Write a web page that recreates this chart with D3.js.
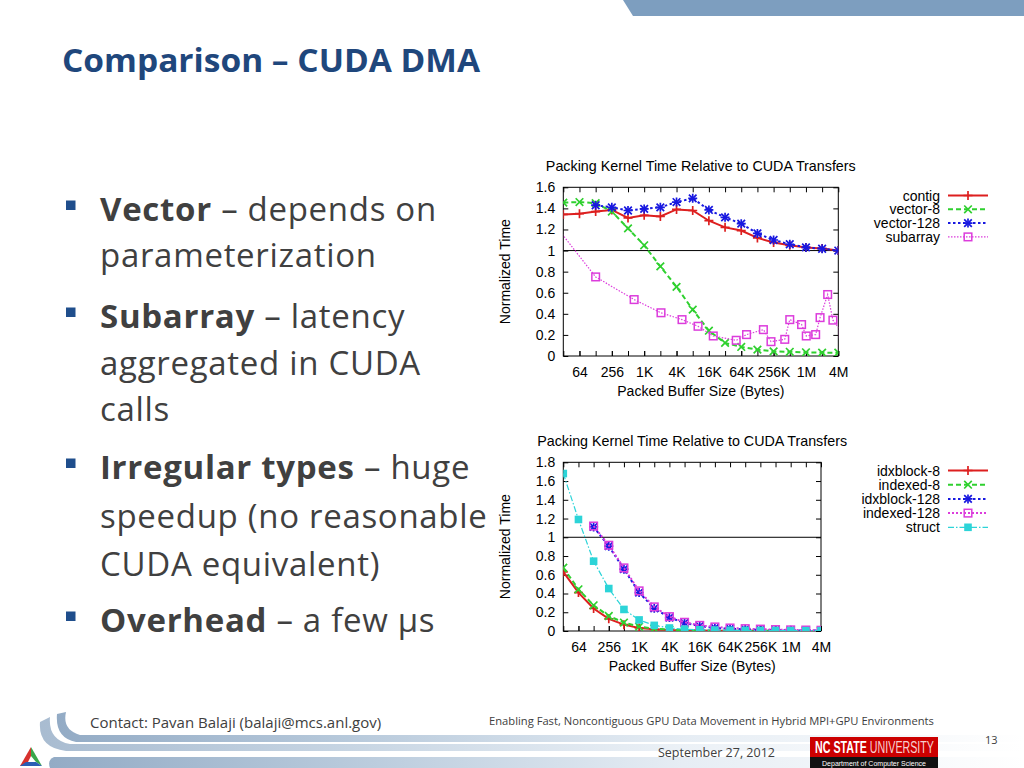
<!DOCTYPE html>
<html>
<head>
<meta charset="utf-8">
<script src="https://cdn.jsdelivr.net/npm/d3@7"></script>
<style>
body { margin: 0; background: #fff; }
svg { display: block; }
</style>
</head>
<body>
<script>
// ---- data ----
var sizes = [32, 64, 128, 256, 512, 1024, 2048, 4096, 8192, 16384, 32768, 65536,
    131072, 262144, 524288, 1048576, 2097152, 4194304]
var xTickValues = [64, 256, 1024, 4096, 16384, 65536, 262144, 1048576, 4194304]
var xTickLabels = ['64', '256', '1K', '4K', '16K', '64K', '256K', '1M', '4M']

// chart 1
var contig = [1.343, 1.35, 1.37, 1.385, 1.31, 1.334, 1.324, 1.39, 1.38, 1.283, 1.22, 1.19,
    1.12, 1.077, 1.05, 1.03, 1.02, 1.0]
var vector8 = [1.455, 1.46, 1.45, 1.37, 1.21, 1.05, 0.85, 0.656, 0.44, 0.24, 0.124, 0.086,
    0.06, 0.044, 0.04, 0.035, 0.032, 0.032]
var vector128 = [null, null, 1.43, 1.41, 1.38, 1.395, 1.41, 1.46, 1.495, 1.385, 1.315, 1.255,
    1.163, 1.10, 1.06, 1.03, 1.017, 1.0]
var subarraySizes = [26, 128, 666, 2105, 5184, 10294, 19757, 52850, 82340, 169300, 234500,
    423000, 524288, 870000, 1063000, 1590000, 1920000, 2660000, 3330000, 5160000]
var subarray = [1.2, 0.75, 0.535, 0.41, 0.345, 0.282, 0.19, 0.149, 0.203, 0.25, 0.136,
    0.158, 0.345, 0.298, 0.19, 0.203, 0.364, 0.583, 0.34, 0.21]

// chart 2
var idxblock8 = [0.63, 0.41, 0.24, 0.13, 0.068, 0.032, 0.018, 0.01, 0.007, 0.005, 0.004, 0.003,
    0.002, 0.002, 0.001, 0.001, 0.001, 0.001]
var indexed8 = [0.675, 0.445, 0.274, 0.16, 0.09, 0.046, 0.025, 0.014, 0.008, 0.005, 0.004, 0.003,
    0.002, 0.002, 0.001, 0.001, 0.001, 0.001]
var idxblock128 = [null, null, 1.11, 0.905, 0.66, 0.41, 0.242, 0.143, 0.086, 0.053, 0.032, 0.025,
    0.018, 0.012, 0.009, 0.007, 0.005, 0.004]
var indexed128 = [null, null, 1.12, 0.915, 0.673, 0.428, 0.257, 0.153, 0.093, 0.06, 0.043, 0.032,
    0.025, 0.02, 0.015, 0.012, 0.01, 0.008]
var struct = [1.68, 1.19, 0.745, 0.453, 0.23, 0.118, 0.06, 0.032, 0.02, 0.013, 0.01, 0.008,
    0.006, 0.005, 0.005, 0.004, 0.004, 0.004]

var yTicks1 = [0, 0.2, 0.4, 0.6, 0.8, 1, 1.2, 1.4, 1.6]
var yTicks2 = [0, 0.2, 0.4, 0.6, 0.8, 1, 1.2, 1.4, 1.6, 1.8]

var bullets = [
    { bold: 'Vector', rest: ' – depends on', more: ['parameterization'] },
    { bold: 'Subarray', rest: ' – latency', more: ['aggregated in CUDA', 'calls'] },
    { bold: 'Irregular types', rest: ' – huge', more: ['speedup (no reasonable', 'CUDA equivalent)'] },
    { bold: 'Overhead', rest: ' – a few µs', more: [] }
]

var red = '#dd1f1f', green = '#2fd02f', blue = '#1818e0', magenta = '#dc3cdc', cyan = '#2cd4d8'
var chartFont = '"Liberation Sans", Arial, sans-serif'
var slideFont = '"Open Sans", sans-serif'

var svg = d3.select('body')
    .append('svg')
    .attr('width', 1024)
    .attr('height', 768)

var defs = svg.append('defs')

// ---- slide decoration ----
svg.append('path')
    .attr('d', 'M623,0 L1024,0 L1024,16 L633,16 Z')
    .attr('fill', '#7d9ebf')

var grad = defs.append('linearGradient').attr('id', 'band').attr('x1', '0').attr('x2', '1')
grad.append('stop').attr('offset', '0').attr('stop-color', '#93abc5')
grad.append('stop').attr('offset', '0.3').attr('stop-color', '#b7c9db')
grad.append('stop').attr('offset', '0.65').attr('stop-color', '#e6edf4')
grad.append('stop').attr('offset', '1').attr('stop-color', '#ffffff')

svg.append('path')
    .attr('d', 'M57,714 L66,712 Q62,730 80,735 L1024,735 L1024,742 L76,742 Q55,738 57,714 Z')
    .attr('fill', 'url(#band)')
svg.append('path')
    .attr('d', 'M40,722 L50,717 Q48,740 70,744 L1024,744 L1024,751 L66,751 Q38,748 40,722 Z')
    .attr('fill', 'url(#band)')
    .attr('opacity', 0.8)
svg.append('path')
    .attr('d', 'M54,757 L1024,757 L1024,768 L50,768 Q47,760 54,757 Z')
    .attr('fill', 'url(#band)')

// argonne triangle
var logo = svg.append('g')
logo.append('path').attr('d', 'M31,747 L20,766 L26,766 L31,756 Z').attr('fill', '#d7312d')
logo.append('path').attr('d', 'M31,747 L42,766 L36,762 L31,756 Z').attr('fill', '#3aa64a')
logo.append('path').attr('d', 'M20,766 L42,766 L36,762 L26,762 Z').attr('fill', '#2a5db4')

// nc state
svg.append('rect').attr('x', 810).attr('y', 737).attr('width', 128).attr('height', 20).attr('fill', '#cc0000')
svg.append('rect').attr('x', 810).attr('y', 757).attr('width', 128).attr('height', 11).attr('fill', '#111')
var ncs = svg.append('text')
    .attr('x', 815).attr('y', 753)
    .attr('textLength', 119).attr('lengthAdjust', 'spacingAndGlyphs')
    .style('font-family', '"Liberation Sans Narrow", "Liberation Sans", sans-serif')
    .style('font-size', '16px')
    .attr('fill', '#fff')
ncs.append('tspan').text('NC STATE').style('font-weight', 'bold')
ncs.append('tspan').text(' UNIVERSITY').attr('fill', '#f6d0d0')
svg.append('text')
    .text('Department of Computer Science')
    .attr('x', 874).attr('y', 765.5)
    .attr('text-anchor', 'middle')
    .style('font-family', chartFont)
    .style('font-size', '7px')
    .attr('fill', '#fff')

// footer text
svg.append('text')
    .text('Contact: Pavan Balaji (balaji@mcs.anl.gov)')
    .attr('x', 90).attr('y', 728)
    .style('font-family', slideFont).style('font-size', '15px')
    .attr('fill', '#404040')
svg.append('text')
    .text('Enabling Fast, Noncontiguous GPU Data Movement in Hybrid MPI+GPU Environments')
    .attr('x', 489).attr('y', 725)
    .style('font-family', slideFont).style('font-size', '11.2px')
    .attr('fill', '#404040')
svg.append('text')
    .text('September 27, 2012')
    .attr('x', 658).attr('y', 757)
    .style('font-family', slideFont).style('font-size', '12.5px')
    .attr('fill', '#404040')
svg.append('text')
    .text('13')
    .attr('x', 985).attr('y', 744)
    .style('font-family', slideFont).style('font-size', '11px')
    .attr('fill', '#404040')

// title
svg.append('text')
    .text('Comparison – CUDA DMA')
    .attr('x', 62).attr('y', 72)
    .attr('textLength', 418).attr('lengthAdjust', 'spacingAndGlyphs')
    .style('font-family', slideFont)
    .style('font-weight', 'bold')
    .style('font-size', '33px')
    .attr('fill', '#1f477c')

// bullets
var lineY = [[221, 267], [328, 375, 421], [479, 528, 576], [632]]
bullets.forEach(function (b, i) {
    var ys = lineY[i]
    svg.append('rect')
        .attr('x', 66).attr('y', ys[0] - 20.5)
        .attr('width', 9.5).attr('height', 9.5)
        .attr('fill', '#1f4e8c')
    var t = svg.append('text')
        .attr('x', 100).attr('y', ys[0])
        .style('font-family', slideFont)
        .style('font-size', '33px')
        .style('letter-spacing', '0.7px')
        .attr('fill', '#404040')
    t.append('tspan').text(b.bold).style('font-weight', 'bold')
    t.append('tspan').text(b.rest)
    b.more.forEach(function (m, j) {
        svg.append('text')
            .text(m)
            .attr('x', 100).attr('y', ys[j + 1])
            .style('font-family', slideFont)
            .style('font-size', '33px')
            .style('letter-spacing', '0.7px')
            .attr('fill', '#404040')
    })
})

// ---- charts ----
function marker(g, type, cx, cy, color) {
    var m = g.append('g').attr('transform', `translate(${cx},${cy})`)
    if (type == 'plus' || type == 'star')
        m.append('path').attr('d', 'M-4.5,0H4.5M0,-4.5V4.5').attr('stroke', color).attr('stroke-width', 1.7)
    if (type == 'cross' || type == 'star')
        m.append('path').attr('d', 'M-3.8,-3.8L3.8,3.8M-3.8,3.8L3.8,-3.8').attr('stroke', color).attr('stroke-width', 1.7)
    if (type == 'square')
        m.append('rect').attr('x', -3.8).attr('y', -3.8).attr('width', 7.6).attr('height', 7.6)
            .attr('fill', 'none').attr('stroke', color).attr('stroke-width', 1.5)
    if (type == 'fsquare')
        m.append('rect').attr('x', -3.8).attr('y', -3.8).attr('width', 7.6).attr('height', 7.6)
            .attr('fill', color)
}

function drawChart(c) {
    var x = d3.scaleLog().base(2).domain([32, 4194304]).range([c.left, c.right])
    var y = d3.scaleLinear().domain([0, c.yMax]).range([c.bottom, c.top])
    var g = svg.append('g')

    var clipId = 'clip' + c.id
    defs.append('clipPath').attr('id', clipId)
        .append('rect')
        .attr('x', c.left).attr('y', c.top)
        .attr('width', c.right - c.left).attr('height', c.bottom - c.top)

    // axes, gnuplot style ticks inside on all sides
    var fmt = d => xTickLabels[xTickValues.indexOf(d)]
    var ax = [
        g.append('g').attr('transform', `translate(0,${c.bottom})`)
            .call(d3.axisBottom(x).tickValues(xTickValues).tickSize(-5).tickPadding(11).tickFormat(fmt)),
        g.append('g').attr('transform', `translate(0,${c.bottom})`)
            .call(d3.axisBottom(x).tickValues(sizes).tickSize(-5).tickFormat('')),
        g.append('g').attr('transform', `translate(0,${c.top})`)
            .call(d3.axisTop(x).tickValues(sizes).tickSize(-5).tickFormat('')),
        g.append('g').attr('transform', `translate(${c.left},0)`)
            .call(d3.axisLeft(y).tickValues(c.yTicks).tickSize(-5).tickPadding(8).tickFormat(d3.format('~g'))),
        g.append('g').attr('transform', `translate(${c.right},0)`)
            .call(d3.axisRight(y).tickValues(c.yTicks).tickSize(-5).tickFormat(''))
    ]
    ax.forEach(function (a) {
        a.select('.domain').remove()
        a.selectAll('line').attr('stroke', '#000')
        a.selectAll('text').style('font-family', chartFont).style('font-size', '14px').attr('fill', '#000')
    })

    g.append('rect')
        .attr('x', c.left).attr('y', c.top)
        .attr('width', c.right - c.left).attr('height', c.bottom - c.top)
        .attr('fill', 'none').attr('stroke', '#000').attr('stroke-width', 1)

    g.append('line')
        .attr('x1', c.left).attr('x2', c.right)
        .attr('y1', y(1)).attr('y2', y(1))
        .attr('stroke', '#000').attr('stroke-width', 1)

    // series
    var plot = g.append('g').attr('clip-path', `url(#${clipId})`)
    c.series.forEach(function (s) {
        var pts = s.values.map((v, i) => [s.sizes[i], v]).filter(p => p[1] != null)
        var line = d3.line().x(p => x(p[0])).y(p => y(p[1]))
        plot.append('path')
            .attr('d', line(pts))
            .attr('fill', 'none')
            .attr('stroke', s.color)
            .attr('stroke-width', s.width)
            .attr('stroke-dasharray', s.dash)
        pts.forEach(p => marker(plot, s.marker, x(p[0]), y(p[1]), s.color))
    })

    // titles
    g.append('text')
        .text('Packing Kernel Time Relative to CUDA Transfers')
        .attr('x', (c.left + c.right) / 2).attr('y', c.titleY)
        .attr('text-anchor', 'middle')
        .style('font-family', chartFont).style('font-size', '14.3px')
    g.append('text')
        .text('Packed Buffer Size (Bytes)')
        .attr('x', (c.left + c.right) / 2).attr('y', c.bottom + 40)
        .attr('text-anchor', 'middle')
        .style('font-family', chartFont).style('font-size', '14px')
    g.append('text')
        .text('Normalized Time')
        .attr('transform', `translate(510,${(c.top + c.bottom) / 2}) rotate(-90)`)
        .attr('text-anchor', 'middle')
        .style('font-family', chartFont).style('font-size', '14px')

    // legend
    c.series.forEach(function (s, i) {
        var ly = c.legendY + i * c.legendStep
        g.append('text')
            .text(s.name)
            .attr('x', 940).attr('y', ly + 5)
            .attr('text-anchor', 'end')
            .style('font-family', chartFont).style('font-size', '14px')
        g.append('line')
            .attr('x1', 948).attr('x2', 988).attr('y1', ly).attr('y2', ly)
            .attr('stroke', s.color)
            .attr('stroke-width', s.width)
            .attr('stroke-dasharray', s.dash)
        marker(g, s.marker, 968, ly, s.color)
    })
}

drawChart({
    id: 1, left: 563.3, right: 838.3, top: 187.3, bottom: 356, yMax: 1.6, yTicks: yTicks1,
    titleY: 171, legendY: 195.5, legendStep: 13.8,
    series: [
        { name: 'contig', sizes: sizes, values: contig, color: red, width: 2, dash: null, marker: 'plus' },
        { name: 'vector-8', sizes: sizes, values: vector8, color: green, width: 2, dash: '5,3', marker: 'cross' },
        { name: 'vector-128', sizes: sizes, values: vector128, color: blue, width: 2, dash: '2.5,2.5', marker: 'star' },
        { name: 'subarray', sizes: subarraySizes, values: subarray, color: magenta, width: 1.2, dash: '1.5,1.5', marker: 'square' }
    ]
})

drawChart({
    id: 2, left: 563.3, right: 821, top: 462.3, bottom: 631, yMax: 1.8, yTicks: yTicks2,
    titleY: 446, legendY: 470.5, legendStep: 14.2,
    series: [
        { name: 'idxblock-8', sizes: sizes, values: idxblock8, color: red, width: 2, dash: null, marker: 'plus' },
        { name: 'indexed-8', sizes: sizes, values: indexed8, color: green, width: 2, dash: '5,3', marker: 'cross' },
        { name: 'idxblock-128', sizes: sizes, values: idxblock128, color: blue, width: 2, dash: '2.5,2.5', marker: 'star' },
        { name: 'indexed-128', sizes: sizes, values: indexed128, color: magenta, width: 2, dash: '2,2', marker: 'square' },
        { name: 'struct', sizes: sizes, values: struct, color: cyan, width: 1.2, dash: '6,2,1.5,2', marker: 'fsquare' }
    ]
})
</script>
</body>
</html>
